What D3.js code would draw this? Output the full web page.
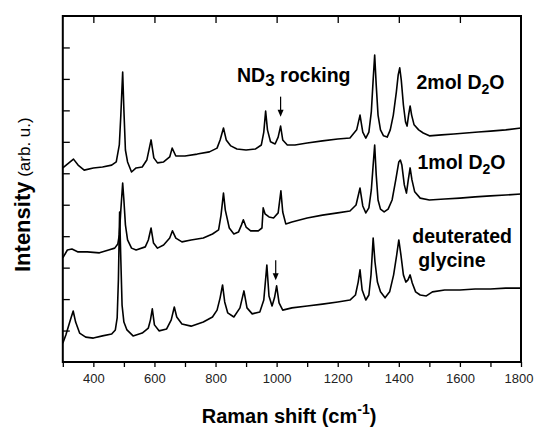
<!DOCTYPE html>
<html>
<head>
<meta charset="utf-8">
<script src="https://cdn.jsdelivr.net/npm/d3@7"></script>
<style>
  html, body { margin: 0; padding: 0; background: #fff; }
  svg { display: block; }
  text { font-family: "Liberation Sans", Arial, sans-serif; }
</style>
</head>
<body>
<svg id="chart" width="534" height="427"></svg>
<script>
// ---------- data (Raman shift in cm^-1, intensity in arbitrary offset units) ----------
const xTicks = [400, 600, 800, 1000, 1200, 1400, 1600, 1800];
const xMinorTicks = [300, 500, 700, 900, 1100, 1300, 1500, 1700];
const yTicks = [1, 2, 3, 4, 5, 6, 7, 8, 9, 10];

const shift2mol = [300,320,335,350,370,400,430,460,475,485,490,496,500,505,512,525,540,560,575,589,598,610,630,650,658,670,700,740,780,805,815,826,835,850,870,900,930,950,958,964,970,980,995,1005,1013,1020,1035,1060,1100,1150,1200,1240,1262,1273,1282,1292,1302,1310,1316,1321,1326,1332,1340,1350,1362,1372,1382,1392,1398,1403,1408,1415,1422,1427,1432,1437,1442,1450,1465,1480,1500,1540,1580,1620,1660,1700,1750,1800];
const int2mol = [6.17,6.33,6.45,6.26,6.10,6.17,6.20,6.26,6.36,6.90,7.85,9.22,8.01,6.74,6.36,6.04,6.17,6.20,6.42,7.06,6.49,6.33,6.36,6.52,6.80,6.55,6.55,6.61,6.68,6.80,7.06,7.44,7.06,6.87,6.77,6.74,6.77,6.90,7.31,7.98,7.38,7.00,6.93,7.15,7.50,7.06,6.90,6.90,6.96,7.03,7.09,7.12,7.38,7.85,7.31,7.12,7.31,7.95,8.97,9.76,8.81,7.85,7.38,7.19,7.15,7.38,7.85,8.59,9.13,9.35,8.97,8.17,7.63,7.50,7.85,8.14,7.85,7.54,7.38,7.28,7.19,7.22,7.25,7.28,7.31,7.34,7.38,7.44];

const shift1mol = [300,315,330,350,380,420,450,470,480,485,490,496,500,505,512,525,540,570,580,589,597,610,630,650,659,670,690,720,760,790,810,818,826,832,845,860,875,885,891,900,915,940,952,956,962,975,990,1005,1014,1020,1030,1050,1100,1150,1200,1240,1260,1273,1282,1292,1302,1310,1316,1321,1326,1332,1340,1352,1365,1378,1390,1400,1405,1410,1418,1425,1431,1437,1443,1452,1470,1500,1550,1600,1650,1700,1750,1800];
const int1mol = [3.31,3.56,3.59,3.50,3.50,3.47,3.56,3.62,3.75,4.04,4.83,5.69,5.15,4.36,3.88,3.62,3.56,3.66,3.88,4.26,3.78,3.62,3.72,3.94,4.17,3.94,3.82,3.88,3.94,4.07,4.20,4.67,5.37,4.83,4.26,4.07,4.13,4.36,4.52,4.29,4.17,4.17,4.26,4.90,4.71,4.61,4.58,4.74,5.44,4.77,4.39,4.45,4.58,4.67,4.74,4.80,4.99,5.53,4.96,4.74,4.90,5.47,6.26,6.90,5.95,5.15,4.86,4.77,4.86,5.15,5.79,6.36,6.42,6.26,5.63,5.37,5.79,6.17,5.79,5.41,5.21,5.15,5.18,5.21,5.25,5.28,5.31,5.34];

const shiftGly = [300,310,325,334,342,355,375,400,430,460,472,478,482,486,490,494,500,510,530,560,580,587,593,600,615,640,655,665,673,690,720,760,790,805,815,823,830,840,860,880,893,903,920,945,958,968,975,985,993,1000,1008,1020,1050,1100,1150,1200,1240,1258,1267,1273,1280,1292,1302,1309,1316,1322,1330,1340,1355,1370,1383,1393,1400,1407,1415,1423,1430,1437,1444,1455,1470,1490,1510,1550,1600,1650,1700,1750,1800];
const intGly = [0.60,0.86,1.34,1.62,1.27,0.92,0.79,0.76,0.83,0.89,1.02,1.40,2.61,4.77,3.24,1.81,1.27,1.02,0.83,0.92,1.08,1.34,1.69,1.18,0.99,1.05,1.34,1.75,1.43,1.21,1.14,1.27,1.43,1.65,2.04,2.45,1.91,1.56,1.43,1.72,2.26,1.72,1.53,1.59,1.97,3.08,2.10,1.78,2.04,2.42,1.88,1.65,1.72,1.78,1.84,1.91,1.97,2.13,2.54,2.93,2.29,1.97,2.13,2.77,3.94,3.18,2.54,2.23,2.04,2.23,2.77,3.40,3.88,3.40,2.77,2.54,2.61,2.77,2.51,2.23,2.13,2.10,2.23,2.29,2.29,2.32,2.32,2.35,2.35];

const seriesNames = ["2mol D2O", "1mol D2O", "deuterated glycine"];
const arrowShifts = [1013, 997];    // ND3 rocking markers
const arrowIntensity = [7.8, 2.6];  // tip height of each arrow

// ---------- layout ----------
const svg = d3.select("#chart");
const mLeft = 62.8, mRight = 521, mTop = 16, mBottom = 362;
const x = d3.scaleLinear().domain([300, 1800]).range([mLeft, mRight]);
const y = d3.scaleLinear().domain([0, 11]).range([mBottom, mTop]);

const series = [
  shift2mol.map((s, i) => [s, int2mol[i]]),
  shift1mol.map((s, i) => [s, int1mol[i]]),
  shiftGly.map((s, i) => [s, intGly[i]])
];

const line = d3.line().x(d => x(d[0])).y(d => y(d[1]));
svg.append("g").selectAll("path").data(series).join("path")
  .attr("d", line).attr("fill", "none").attr("stroke", "#000")
  .attr("stroke-width", 1.6).attr("stroke-linejoin", "round");

// ---------- axes ----------
const axStroke = 2;
const gb = svg.append("g").attr("transform", `translate(0,${mBottom})`)
  .call(d3.axisBottom(x).tickValues(xTicks.concat(xMinorTicks)).tickSize(5).tickFormat(d => xTicks.includes(d) ? d : ""));
gb.select(".domain").remove();
gb.selectAll(".tick line").attr("stroke", "#000").attr("stroke-width", 1.3);
gb.selectAll(".tick text").attr("font-size", 13).attr("fill", "#222")
  .attr("font-family", "Liberation Sans, Arial, sans-serif").attr("y", 12).attr("dy", "0.71em")
  .attr("dx", d => d === 1800 ? -2.5 : 0);

const gt = svg.append("g").attr("transform", `translate(0,${mTop})`)
  .call(d3.axisBottom(x).tickValues(xTicks.filter(d => d < 1800)).tickSize(7).tickFormat(""));
gt.select(".domain").remove();
gt.selectAll(".tick line").attr("stroke", "#000").attr("stroke-width", 1.3);

const gl = svg.append("g").attr("transform", `translate(${mLeft},0)`)
  .call(d3.axisRight(y).tickValues(yTicks).tickSize(7).tickFormat(""));
gl.select(".domain").remove();
gl.selectAll(".tick line").attr("stroke", "#000").attr("stroke-width", 1.3);

svg.append("rect").attr("x", mLeft).attr("y", mTop)
  .attr("width", mRight - mLeft).attr("height", mBottom - mTop)
  .attr("fill", "none").attr("stroke", "#000").attr("stroke-width", axStroke);

// ---------- arrows ----------
arrowShifts.forEach((s, i) => {
  const tipY = y(arrowIntensity[i]);
  const g = svg.append("g");
  g.append("line").attr("x1", x(s)).attr("x2", x(s))
    .attr("y1", tipY - 20).attr("y2", tipY - 5)
    .attr("stroke", "#000").attr("stroke-width", 1.2);
  g.append("path")
    .attr("d", `M${x(s) - 3},${tipY - 7} L${x(s) + 3},${tipY - 7} L${x(s)},${tipY} Z`)
    .attr("fill", "#000");
});

// ---------- labels ----------
const lblFont = 19.5;
function labelD2O(txt, xp, yp) {
  const t = svg.append("text").attr("x", xp).attr("y", yp)
    .attr("font-size", lblFont).attr("font-weight", "bold").attr("fill", "#000");
  t.append("tspan").text(txt.split(" ")[0] + " D");
  t.append("tspan").text("2").attr("font-size", 14).attr("dy", 5);
  t.append("tspan").text("O").attr("dy", -5);
}
labelD2O(seriesNames[0], 416.5, 88.5);
labelD2O(seriesNames[1], 417.5, 168.5);

const gly = seriesNames[2].split(" ");
svg.append("text").attr("x", 412.3).attr("y", 242.7).attr("font-size", lblFont)
  .attr("font-weight", "bold").text(gly[0]);
svg.append("text").attr("x", 418.3).attr("y", 267.3).attr("font-size", lblFont)
  .attr("font-weight", "bold").text(gly[1]);

const nd = svg.append("text").attr("x", 237).attr("y", 81.5).attr("font-size", lblFont)
  .attr("font-weight", "bold");
nd.append("tspan").text("ND");
nd.append("tspan").text("3").attr("font-size", 17).attr("dy", 4.5);
nd.append("tspan").text(" rocking").attr("dy", -4.5);

const xt = svg.append("text").attr("x", 201.7).attr("y", 422.7)
  .attr("font-size", 20).attr("font-weight", "bold");
xt.append("tspan").text("Raman shift (cm");
xt.append("tspan").text("-1").attr("font-size", 14).attr("dy", -9);
xt.append("tspan").text(")").attr("dy", 9);

const yt = svg.append("text").attr("transform", "translate(29.5,272) rotate(-90)");
yt.append("tspan").text("Intensity").attr("font-size", 22).attr("font-weight", "bold");
yt.append("tspan").text(" (arb. u.)").attr("font-size", 17);
</script>
</body>
</html>
